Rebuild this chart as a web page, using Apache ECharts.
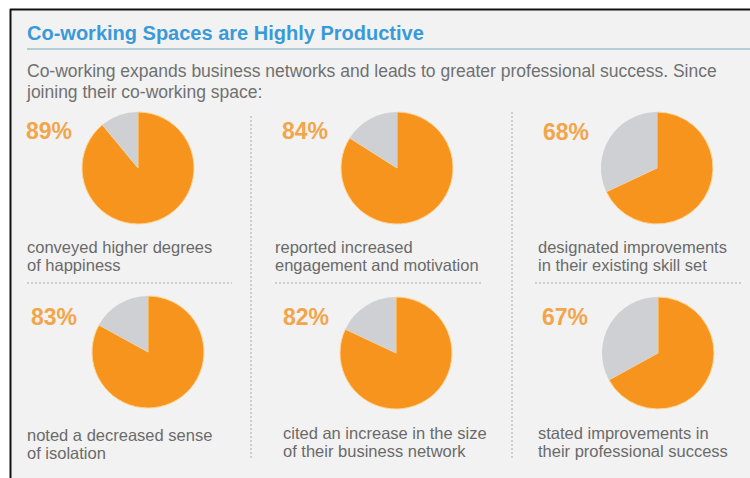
<!DOCTYPE html>
<html><head><meta charset="utf-8">
<script src="https://cdn.jsdelivr.net/npm/echarts@6/dist/echarts.min.js"></script>
<style>html,body{margin:0;padding:0;background:#fff}#c{width:750px;height:478px}</style>
</head><body><div id="c"></div>
<script>
const titleText = 'Co-working Spaces are Highly Productive';
const subtitleLines = ['Co-working expands business networks and leads to greater professional success. Since', 'joining their co-working space:'];
const percents = [89, 84, 68, 83, 82, 67];
const captions = [
  ['conveyed higher degrees', 'of happiness'],
  ['reported increased', 'engagement and motivation'],
  ['designated improvements', 'in their existing skill set'],
  ['noted a decreased sense', 'of isolation'],
  ['cited an increase in the size', 'of their business network'],
  ['stated improvements in', 'their professional success']
];

// layout (positions only)
const pieCenters = [[138,168],[397,168],[657,168],[148,352],[396,353],[658,353]];
const pctPos = [[26,131],[282,131],[543,132],[31,317],[283,317],[542,317]];
const capPos = [[27,247],[275,247],[538,247],[27,435],[283,433],[538,433]];
const ORANGE = '#f7941d', GREY = '#cfd0d4';
const FONT = 'Liberation Sans, Arial, sans-serif';

const chart = echarts.init(document.getElementById('c'), null, {renderer:'svg'});
const graphic = [
  {type:'rect', shape:{x:0,y:0,width:750,height:478}, style:{fill:'#ffffff'}, z:-10},
  {type:'rect', shape:{x:11,y:10,width:739,height:468}, style:{fill:'#f2f2f2'}, z:-9},
  {type:'line', shape:{x1:10.5,y1:9,x2:10.5,y2:478}, style:{stroke:'#111',lineWidth:2}, z:-8},
  {type:'line', shape:{x1:10,y1:9.5,x2:750,y2:9.5}, style:{stroke:'#111',lineWidth:2}, z:-8},
  {type:'text', x:27, y:33, style:{text:titleText, fill:'#3a9ad8', font:'bold 20px '+FONT, textVerticalAlign:'middle'}},
  {type:'line', shape:{x1:27,y1:49,x2:750,y2:49}, style:{stroke:'#b4cbd8',lineWidth:2}},
  {type:'text', x:27, y:71, style:{text:subtitleLines[0], fill:'#707070', font:'17.5px '+FONT, textVerticalAlign:'middle'}},
  {type:'text', x:27, y:92, style:{text:subtitleLines[1], fill:'#707070', font:'17.5px '+FONT, textVerticalAlign:'middle'}},
  // dotted separators
  {type:'line', shape:{x1:27,y1:283,x2:232,y2:283}, style:{stroke:'#c4c4c4',lineWidth:1.5,lineDash:[2,2]}},
  {type:'line', shape:{x1:275,y1:283,x2:482,y2:283}, style:{stroke:'#c4c4c4',lineWidth:1.5,lineDash:[2,2]}},
  {type:'line', shape:{x1:535,y1:283,x2:742,y2:283}, style:{stroke:'#c4c4c4',lineWidth:1.5,lineDash:[2,2]}},
  {type:'line', shape:{x1:251,y1:116,x2:251,y2:458}, style:{stroke:'#c4c4c4',lineWidth:1.5,lineDash:[2,2]}},
  {type:'line', shape:{x1:512,y1:112,x2:512,y2:460}, style:{stroke:'#c4c4c4',lineWidth:1.5,lineDash:[2,2]}}
];
percents.forEach((p,i)=>{
  graphic.push({type:'text', x:pctPos[i][0], y:pctPos[i][1], style:{text:p+'%', fill:'#f2a54a', font:'bold 23px '+FONT, textVerticalAlign:'middle'}});
  captions[i].forEach((line,j)=>{
    graphic.push({type:'text', x:capPos[i][0], y:capPos[i][1]+j*18, style:{text:line, fill:'#6a6a6a', font:'16.5px '+FONT, textVerticalAlign:'middle'}});
  });
});

const series = percents.map((p,i)=>({
  type:'pie', center:pieCenters[i], radius:[0,56], startAngle:90, clockwise:true,
  silent:true, label:{show:false}, labelLine:{show:false}, animation:false,
  itemStyle:{borderColor:'#fcd79a', borderWidth:1},
  data:[{value:p, name:'yes', itemStyle:{color:ORANGE}}, {value:100-p, name:'other', itemStyle:{color:GREY, borderWidth:0}}]
}));

chart.setOption({animation:false, graphic:graphic, series:series});
</script></body></html>
